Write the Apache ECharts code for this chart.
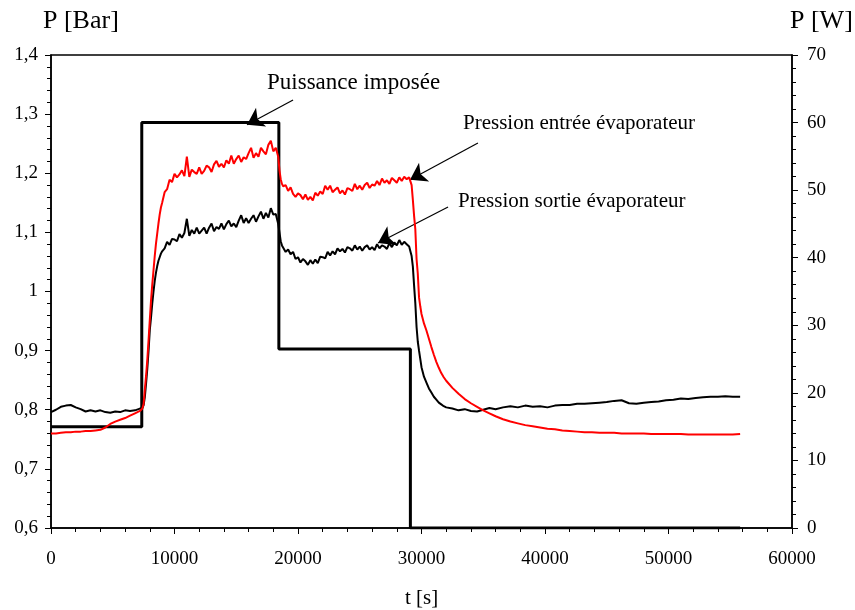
<!DOCTYPE html>
<html>
<head>
<meta charset="utf-8">
<script src="https://cdn.jsdelivr.net/npm/echarts@6/dist/echarts.min.js"></script>
<style>
  html, body { margin: 0; padding: 0; background: #fff; }
  #chart { width: 855px; height: 610px; }
</style>
</head>
<body>
<div id="chart"></div>
<script>
// temps [s]
const temps = [
  0, 400, 800, 1200, 1600, 2000, 2400, 2800, 3200, 3600, 4000, 4400, 4800, 5200, 5600, 6000, 6400, 6800, 7200,
  7300, 7400, 7500, 7600, 7700, 7800, 7900, 8000, 8100, 8200, 8300, 8400, 8500, 8600, 8700, 8800, 8900, 9000,
  9200, 9400, 9600, 9800, 10000, 10200, 10400, 10600, 10800, 11000, 11200, 11400, 11600, 11800,
  12000, 12200, 12400, 12600, 12800, 13000, 13200, 13400, 13600, 13800, 14000, 14200, 14400, 14600, 14800,
  15000, 15200, 15400, 15600, 15800, 16000, 16200, 16400, 16600, 16800, 17000, 17200, 17400, 17600, 17800,
  18000, 18200, 18400,
  18500, 18600, 18700, 18800,
  19000, 19200, 19400, 19600, 19800, 20000, 20200, 20400, 20600, 20800,
  21000, 21200, 21400, 21600, 21800, 22000, 22200, 22400, 22600, 22800,
  23000, 23200, 23400, 23600, 23800, 24000, 24200, 24400, 24600, 24800,
  25000, 25200, 25400, 25600, 25800, 26000, 26200, 26400, 26600, 26800,
  27000, 27200, 27400, 27600, 27800, 28000, 28200, 28400, 28600, 28800, 29000,
  29100, 29200, 29300, 29400, 29500, 29600, 29700, 29800, 29900, 30000,
  30200, 30400, 30600, 30800, 31000, 31200, 31400, 31600, 31800, 32000,
  32500, 33000, 33500, 34000, 34500, 35000, 35500, 36000,
  36600, 37200, 37800, 38400, 39000, 39600, 40200, 40800, 41400, 42000, 42600,
  43200, 43800, 44400, 45000, 45600, 46200, 46800, 47400, 48000, 48600,
  49200, 49800, 50400, 51000, 51600, 52200, 52800, 53400, 54000, 54600, 55200, 55800
]
// Pression entrée évaporateur [bar]
const pEntree = [
  0.760, 0.760, 0.761, 0.762, 0.762, 0.763, 0.763, 0.764, 0.764, 0.765, 0.766, 0.770, 0.776, 0.780, 0.783, 0.786, 0.790, 0.794, 0.798,
  0.800, 0.802, 0.810, 0.835, 0.858, 0.885, 0.918, 0.952, 0.985, 1.012, 1.036, 1.060, 1.081, 1.098, 1.115, 1.130, 1.142, 1.150,
  1.168, 1.173, 1.189, 1.185, 1.199, 1.193, 1.198, 1.205, 1.195, 1.228, 1.194, 1.206, 1.202, 1.199,
  1.210, 1.199, 1.204, 1.213, 1.210, 1.202, 1.215, 1.221, 1.211, 1.216, 1.210, 1.222, 1.216, 1.230, 1.216,
  1.224, 1.230, 1.219, 1.227, 1.224, 1.234, 1.243, 1.226, 1.234, 1.228, 1.243, 1.237, 1.232, 1.248, 1.255,
  1.237, 1.243, 1.228,
  1.205, 1.190, 1.182, 1.178,
  1.180, 1.170, 1.176, 1.165, 1.160, 1.166, 1.163, 1.156, 1.164, 1.155,
  1.160, 1.154, 1.167, 1.162, 1.169, 1.165, 1.179, 1.172, 1.179, 1.168,
  1.172, 1.176, 1.166, 1.171, 1.164, 1.175, 1.173, 1.170, 1.182, 1.173,
  1.179, 1.172, 1.180, 1.184, 1.175, 1.181, 1.179, 1.187, 1.180, 1.191,
  1.184, 1.188, 1.182, 1.192, 1.188, 1.184, 1.193, 1.187, 1.194, 1.190, 1.193,
  1.190, 1.180, 1.155, 1.128, 1.105, 1.055, 1.030, 0.990, 0.975, 0.962,
  0.946, 0.934, 0.920, 0.906, 0.893, 0.881, 0.871, 0.862, 0.855, 0.849,
  0.837, 0.827, 0.818, 0.811, 0.805, 0.799, 0.794, 0.789,
  0.784, 0.780, 0.777, 0.774, 0.772, 0.770, 0.768, 0.767, 0.765, 0.764, 0.763,
  0.762, 0.762, 0.761, 0.761, 0.761, 0.760, 0.760, 0.760, 0.760, 0.759,
  0.759, 0.759, 0.759, 0.759, 0.758, 0.758, 0.758, 0.758, 0.758, 0.758, 0.758, 0.759
]
// Pression sortie évaporateur [bar]
const pSortie = [
  0.796, 0.800, 0.805, 0.807, 0.808, 0.804, 0.801, 0.797, 0.799, 0.797, 0.799, 0.796, 0.795, 0.797, 0.796, 0.799, 0.798, 0.799, 0.802,
  0.801, 0.803, 0.808, 0.822, 0.845, 0.870, 0.900, 0.935, 0.956, 0.980, 1.000, 1.018, 1.032, 1.043, 1.052, 1.058, 1.064, 1.068,
  1.073, 1.084, 1.079, 1.089, 1.088, 1.085, 1.097, 1.091, 1.099, 1.123, 1.094, 1.104, 1.098, 1.108,
  1.098, 1.103, 1.108, 1.098, 1.108, 1.115, 1.102, 1.109, 1.106, 1.115, 1.105, 1.114, 1.120, 1.110, 1.115,
  1.109, 1.120, 1.129, 1.116, 1.124, 1.116, 1.123, 1.129, 1.118, 1.127, 1.135, 1.123, 1.133, 1.125, 1.141,
  1.130, 1.131, 1.114,
  1.100, 1.085, 1.078, 1.075,
  1.067, 1.071, 1.063, 1.067, 1.055, 1.058, 1.049, 1.055, 1.051, 1.045,
  1.053, 1.047, 1.054, 1.048, 1.059, 1.058, 1.056, 1.067, 1.061, 1.068,
  1.063, 1.073, 1.068, 1.072, 1.066, 1.075, 1.073, 1.069, 1.078, 1.071,
  1.076, 1.069, 1.075, 1.078, 1.071, 1.075, 1.070, 1.080, 1.073, 1.078,
  1.076, 1.072, 1.082, 1.075, 1.083, 1.078, 1.087, 1.079, 1.084, 1.080, 1.076,
  1.068, 1.060, 1.042, 1.010, 0.980, 0.940, 0.915, 0.900, 0.886, 0.872,
  0.856, 0.846, 0.836, 0.829, 0.822, 0.817, 0.812, 0.809, 0.806, 0.804,
  0.802, 0.799, 0.801, 0.798, 0.797, 0.800, 0.803, 0.801,
  0.804, 0.806, 0.804, 0.807, 0.805, 0.806, 0.804, 0.807, 0.808, 0.808, 0.810,
  0.810, 0.811, 0.812, 0.813, 0.815, 0.816, 0.811, 0.810, 0.812, 0.813,
  0.814, 0.816, 0.817, 0.819, 0.818, 0.820, 0.821, 0.822, 0.822, 0.823, 0.822, 0.822
]
// Puissance imposée [W]
const tPuissance = [0, 7350, 7350, 18450, 18450, 29100, 29100, 55800]
const puissance = [15, 15, 60, 60, 26.5, 26.5, 0, 0]

const police = "'Liberation Serif', 'Times New Roman', serif"

const chart = echarts.init(document.getElementById('chart'))

const pair = (xs, ys) => xs.map((x, i) => [x, ys[i]])

const virgule = v => String(+v.toFixed(1)).replace('.', ',')

const option = {
  animation: false,
  backgroundColor: '#fff',
  grid: {
    left: 51,
    right: 63,
    top: 55,
    bottom: 82,
    show: true,
    borderColor: '#000',
    borderWidth: 1.5,
    outerBoundsMode: 'none'
  },
  graphic: [
    {
      type: 'text',
      left: 43,
      top: 8,
      style: { text: 'P [Bar]', font: '26px ' + police, fill: '#000' }
    },
    {
      type: 'text',
      left: 790,
      top: 8,
      style: { text: 'P [W]', font: '26px ' + police, fill: '#000' }
    }
  ],
  xAxis: {
    type: 'value',
    min: 0,
    max: 60000,
    interval: 10000,
    name: 't [s]',
    nameLocation: 'middle',
    nameGap: 60,
    nameTextStyle: { fontFamily: police, fontSize: 21, color: '#000' },
    axisLine: { lineStyle: { color: '#000', width: 1.5 } },
    axisTick: { length: 6, lineStyle: { color: '#000' } },
    minorTick: { show: true, splitNumber: 5, length: 4, lineStyle: { color: '#000' } },
    splitLine: { show: false },
    axisLabel: { fontFamily: police, fontSize: 19, color: '#000', margin: 22, formatter: v => String(v) }
  },
  yAxis: [
    {
      type: 'value',
      min: 0.6,
      max: 1.4,
      interval: 0.1,
      axisLine: { show: true, lineStyle: { color: '#000', width: 1.5 } },
      axisTick: { show: true, length: 6, lineStyle: { color: '#000' } },
      minorTick: { show: true, splitNumber: 5, length: 4, lineStyle: { color: '#000' } },
      splitLine: { show: false },
      axisLabel: { fontFamily: police, fontSize: 19, color: '#000', margin: 13, formatter: virgule }
    },
    {
      type: 'value',
      min: 0,
      max: 70,
      interval: 10,
      position: 'right',
      axisLine: { show: true, lineStyle: { color: '#000', width: 1.5 } },
      axisTick: { show: true, length: 6, lineStyle: { color: '#000' } },
      minorTick: { show: true, splitNumber: 5, length: 4, lineStyle: { color: '#000' } },
      splitLine: { show: false },
      axisLabel: { fontFamily: police, fontSize: 19, color: '#000', margin: 15 }
    }
  ],
  series: [
    {
      name: 'Puissance imposée',
      type: 'line',
      yAxisIndex: 1,
      data: pair(tPuissance, puissance),
      showSymbol: false,
      lineStyle: { color: '#000', width: 3 },
      z: 3
    },
    {
      name: 'Pression sortie évaporateur',
      type: 'line',
      data: pair(temps, pSortie),
      showSymbol: false,
      lineStyle: { color: '#000', width: 2 },
      z: 4
    },
    {
      name: 'Pression entrée évaporateur',
      type: 'line',
      data: pair(temps, pEntree),
      showSymbol: false,
      lineStyle: { color: '#ff0000', width: 2 },
      z: 5,
      // flèches d'annotation
      markLine: {
        silent: true,
        symbol: ['none', 'arrow'],
        symbolSize: 16,
        label: { show: false },
        lineStyle: { color: '#000', width: 1.2, type: 'solid' },
        data: [
          [{ coord: [19600, 1.324] }, { coord: [15870, 1.282] }],
          [{ coord: [34570, 1.251] }, { coord: [29070, 1.189] }],
          [{ coord: [32150, 1.143] }, { coord: [26480, 1.082] }]
        ]
      },
      markPoint: {
        silent: true,
        symbol: 'rect',
        symbolSize: 0,
        label: {
          show: true,
          position: 'right',
          distance: 0,
          color: '#000',
          fontFamily: police,
          formatter: p => p.name
        },
        data: [
          { name: 'Puissance imposée', coord: [17490, 1.353], label: { fontSize: 23 } },
          { name: 'Pression entrée évaporateur', coord: [33360, 1.285], label: { fontSize: 21 } },
          { name: 'Pression sortie évaporateur', coord: [32960, 1.152], label: { fontSize: 21 } }
        ]
      }
    }
  ]
}

chart.setOption(option)
</script>
</body>
</html>
